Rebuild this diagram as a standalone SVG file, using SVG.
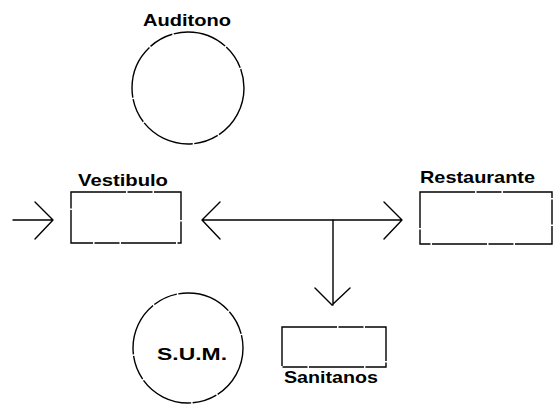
<svg xmlns="http://www.w3.org/2000/svg" width="554" height="404" viewBox="0 0 554 404">
<style>
.s{fill:none;stroke:#000;stroke-width:1.4;stroke-dasharray:55 1.5 25 1.5}
.c{fill:none;stroke:#000;stroke-width:1.4;stroke-linecap:round;stroke-linejoin:round}
text{font-family:"Liberation Sans",Arial,sans-serif;font-size:17px;fill:#000;font-weight:bold}
</style>
<rect width="554" height="404" fill="#fff"/>
<g id="auditono">
<circle class="s" cx="188" cy="88" r="56"/>
<text x="143" y="26" textLength="88" lengthAdjust="spacingAndGlyphs">Auditono</text>
</g>
<g id="vestibulo">
<rect class="s" x="71" y="192" width="110" height="51"/>
<text x="78" y="186" textLength="90" lengthAdjust="spacingAndGlyphs">Vestibulo</text>
</g>
<g id="restaurante">
<rect class="s" x="420" y="192" width="132" height="52"/>
<text x="420" y="183" textLength="115" lengthAdjust="spacingAndGlyphs">Restaurante</text>
</g>
<g id="sum">
<circle class="s" cx="188" cy="348" r="55"/>
<text x="157" y="360" textLength="70" lengthAdjust="spacingAndGlyphs">S.U.M.</text>
</g>
<g id="sanitanos">
<rect class="s" x="282" y="327" width="104" height="40"/>
<text x="284" y="383" textLength="94" lengthAdjust="spacingAndGlyphs">Sanitanos</text>
</g>
<g id="connectors">
<path class="c" d="M13 220H53M35 202L53 220L35 239"/>
<path class="c" d="M202 220H402M220 202L202 220L220 239M384 202L402 220L384 239"/>
<path class="c" d="M333 220V305M315 288L332 305L350 288"/>
</g>
</svg>
